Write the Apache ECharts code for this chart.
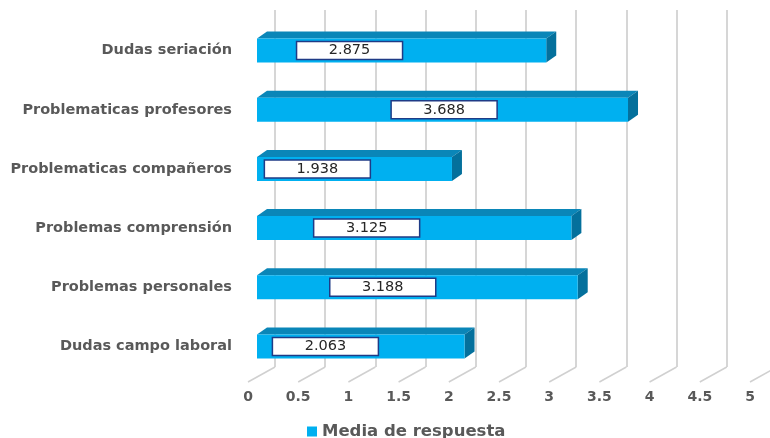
<!DOCTYPE html>
<html><head><meta charset="utf-8">
<script src="https://cdn.jsdelivr.net/npm/echarts@6/dist/echarts.min.js"></script>
<style>html,body{margin:0;padding:0;background:#fff}#c{width:770px;height:438px}</style>
</head><body><div id="c"></div>
<script>
const categories = ['Dudas seriación','Problematicas profesores','Problematicas compañeros','Problemas comprensión','Problemas personales','Dudas campo laboral'];
const values = [2.875, 3.688, 1.938, 3.125, 3.188, 2.063];
const valueLabels = ['2.875','3.688','1.938','3.125','3.188','2.063'];
const labelAnchors = [0.92, 1.86, 0.60, 1.09, 1.25, 0.68];
const xTicks = [0, 0.5, 1, 1.5, 2, 2.5, 3, 3.5, 4, 4.5, 5];
const seriesName = 'Media de respuesta';

const FONT = "'DejaVu Sans', sans-serif";
const chart = echarts.init(document.getElementById('c'), null, {renderer:'canvas'});
const DX = 10, DY = -7, BAR_H = 24;

chart.setOption({
  animation:false,
  backgroundColor:'#fff',
  grid:[
    {left:257, width:503, top:21, height:355},
    {left:275, width:451.8, top:10, height:357},
    {left:248, width:502, top:300, height:82}
  ],
  xAxis:[
    {gridIndex:0, type:'value', min:0, max:5, show:false},
    {gridIndex:1, type:'value', min:0, max:4.5, interval:0.5,
      axisLine:{show:false}, axisTick:{show:false}, axisLabel:{show:false},
      splitLine:{show:true, lineStyle:{color:'#d6d6d6', width:2}}},
    {gridIndex:2, type:'value', min:0, max:5, interval:0.5,
      axisLine:{show:false}, axisTick:{show:false}, splitLine:{show:false},
      axisLabel:{margin:8, color:'#595959', fontWeight:'bold', fontSize:14, fontFamily:FONT,
        formatter:v=>String(v)}}
  ],
  yAxis:[
    {gridIndex:0, type:'category', data:categories, inverse:true,
      axisLine:{show:false}, axisTick:{show:false}, splitLine:{show:false},
      axisLabel:{margin:25, color:'#595959', fontWeight:'bold', fontSize:14.5, fontFamily:FONT}},
    {gridIndex:1, type:'value', show:false, min:0, max:1},
    {gridIndex:2, type:'value', show:false, min:0, max:1}
  ],
  legend:{
    data:[seriesName], left:302, top:418, icon:'rect', itemWidth:10, itemHeight:10, itemGap:6,
    textStyle:{color:'#595959', fontWeight:'bold', fontSize:16.5, fontFamily:FONT}
  },
  series:[
    {
      type:'custom', name:'floor', xAxisIndex:2, yAxisIndex:2, silent:true, z:1,
      data:xTicks.map(v=>[v,0]),
      renderItem:function(params, api){
        const p = api.coord([api.value(0), 0]);
        return {type:'line', shape:{x1:p[0], y1:p[1], x2:p[0]+27, y2:p[1]-15},
          style:{stroke:'#d0d0d0', lineWidth:1.5}};
      }
    },
    {
      type:'custom', name:seriesName, xAxisIndex:0, yAxisIndex:0, z:5,
      itemStyle:{color:'#00b0f0'},
      data:values.map((v,i)=>[v,i,labelAnchors[i]]),
      renderItem:function(params, api){
        const i = api.value(1);
        const p0 = api.coord([0, i]);
        const p1 = api.coord([api.value(0), i]);
        const yT = p0[1]-BAR_H/2, yB = p0[1]+BAR_H/2;
        const x0 = p0[0], x1 = p1[0];
        const lc = api.coord([api.value(2), i]);
        return {type:'group', children:[
          {type:'polygon', shape:{points:[[x0,yT],[x0+DX,yT+DY],[x1+DX,yT+DY],[x1,yT]]}, style:{fill:'#0a86b8'}},
          {type:'polygon', shape:{points:[[x1,yT],[x1+DX,yT+DY],[x1+DX,yB+DY],[x1,yB]]}, style:{fill:'#04709c'}},
          {type:'rect', shape:{x:x0, y:yT, width:x1-x0, height:BAR_H}, style:{fill:'#00b0f0'}},
          {type:'rect', shape:{x:lc[0]-53, y:p0[1]-9, width:106, height:18},
            style:{fill:'#fff', stroke:'#1f3b86', lineWidth:1.5}},
          {type:'text', x:lc[0], y:p0[1], style:{text:valueLabels[params.dataIndex], align:'center', verticalAlign:'middle',
            fill:'#262626', font:'14.5px '+FONT}}
        ]};
      }
    }
  ]
});
</script></body></html>
